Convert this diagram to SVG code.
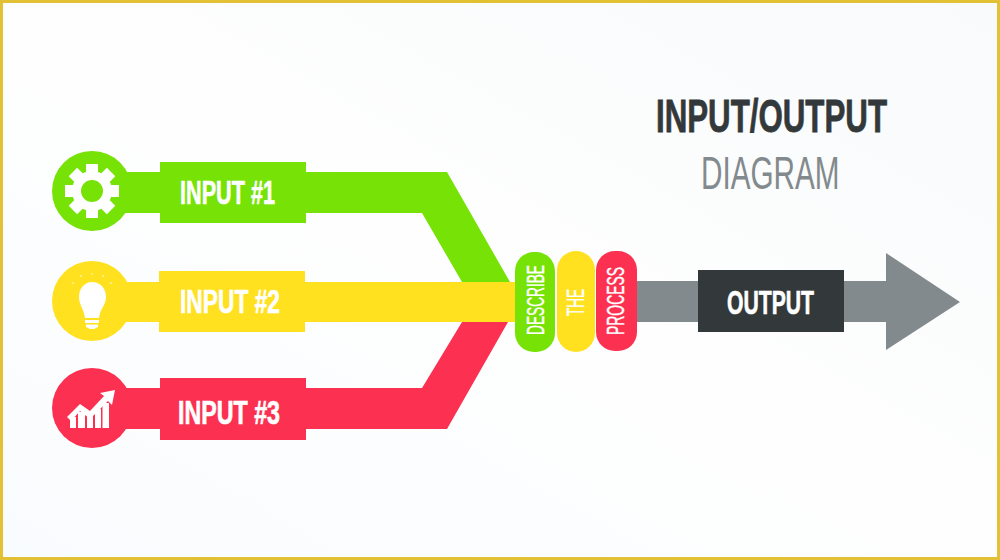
<svg xmlns="http://www.w3.org/2000/svg" width="1000" height="560" viewBox="0 0 1000 560">
<style>
.lbl{font-family:"Liberation Sans",Arial,sans-serif;font-weight:700;fill:#fff;stroke:#fff;stroke-width:.7}
.thin{font-family:"Liberation Sans",Arial,sans-serif;font-weight:400;fill:#fff;stroke:#fff;stroke-width:.4}
.g{fill:#76e205}.y{fill:#ffe11f}.r{fill:#fc3152}.k{fill:#838a8d}.d{fill:#33383a}
</style>
<defs>
<linearGradient id="bg" x1="0" y1="1" x2="1" y2="0"><stop offset="0" stop-color="#f9fcfe"/><stop offset=".5" stop-color="#fefefe"/><stop offset="1" stop-color="#f8fafb"/></linearGradient>
</defs>
<rect x="1.500" y="1.500" width="997" height="557" fill="url(#bg)" stroke="#e2c234" stroke-width="3"/>
<g id="connectors">
<path id="c1" class="g" d="M120 172H447L510 282H462L422 213H120Z"/>
<path id="c3" class="r" d="M120 388H422L462 322H508L447 429H120Z"/>
<rect id="c2" class="y" x="120" y="282" width="400" height="40"/>
<rect id="c4" class="k" x="630" y="281" width="260" height="41"/>
<polygon id="arrowhead" class="k" points="886,253 960,302 886,350"/>
</g>
<g id="input1">
<circle class="g" cx="92" cy="191" r="40"/>
<rect class="g" x="160" y="162" width="146" height="61"/>
<g fill="#fff" transform="translate(92 191)">
<rect x="-6" y="-27" width="12" height="54"/>
<rect x="-6" y="-27" width="12" height="54" transform="rotate(45)"/>
<rect x="-6" y="-27" width="12" height="54" transform="rotate(90)"/>
<rect x="-6" y="-27" width="12" height="54" transform="rotate(135)"/>
<circle r="20"/>
<circle r="11" class="g"/>
</g>
<text class="lbl" x="180" y="204" font-size="34" textLength="95" lengthAdjust="spacingAndGlyphs">INPUT #1</text>
</g>
<g id="input2">
<circle class="y" cx="92" cy="301" r="40"/>
<rect class="y" x="159" y="271" width="146" height="61"/>
<g fill="#fff">
<path d="M92 282C101 282 106 289 106 297C106 305 100 309 99 318H85C84 309 79 305 79 297C79 289 84 282 92 282Z"/>
<path d="M85 320H99V323H85ZM86 324.500H98V327L94 329H90L86 327Z"/>
<g opacity=".55"><circle cx="92" cy="274" r="1"/><circle cx="81" cy="276" r="1"/><circle cx="103" cy="276" r="1"/><circle cx="73" cy="283" r="1"/><circle cx="111" cy="283" r="1"/></g>
</g>
<text class="lbl" x="180" y="313" font-size="34" textLength="100" lengthAdjust="spacingAndGlyphs">INPUT #2</text>
</g>
<g id="input3">
<circle class="r" cx="92" cy="408" r="40"/>
<rect class="r" x="160" y="378" width="146" height="62"/>
<g fill="#fff">
<path d="M70 428V417H76V428ZM78 428V412H85V428ZM87 428V415H93V428ZM95 428V409H101V428ZM102.500 428V403H109V428Z"/>
<path d="M67 417L80 404L90 411L104 396L100 393L115 390L112 405L108 401L90 419L80 411L71 421Z"/>
</g>
<text class="lbl" x="178" y="424" font-size="34" textLength="102" lengthAdjust="spacingAndGlyphs">INPUT #3</text>
</g>
<g id="describe">
<rect class="g" x="515" y="252" width="40" height="100" rx="19"/>
<text class="thin" transform="translate(544 335) rotate(-90)" font-size="24" textLength="70" lengthAdjust="spacingAndGlyphs">DESCRIBE</text>
</g>
<g id="the">
<rect class="y" x="557" y="251" width="38" height="101" rx="19"/>
<text class="thin" transform="translate(584 316) rotate(-90)" font-size="24" textLength="27" lengthAdjust="spacingAndGlyphs">THE</text>
</g>
<g id="process">
<rect class="r" x="596" y="251" width="41" height="100" rx="19"/>
<text class="thin" transform="translate(624 335) rotate(-90)" font-size="24" textLength="68" lengthAdjust="spacingAndGlyphs">PROCESS</text>
</g>
<g id="output">
<rect class="d" x="698" y="270" width="146" height="62"/>
<text class="lbl" x="727" y="314" font-size="34" textLength="87" lengthAdjust="spacingAndGlyphs">OUTPUT</text>
</g>
<g id="title">
<text transform="translate(656 132) scale(.7 1)" font-family="'Liberation Sans',Arial,sans-serif" font-weight="700" font-size="47" fill="#33383a" stroke="#33383a" stroke-width=".8" textLength="330" lengthAdjust="spacingAndGlyphs">INPUT/OUTPUT</text>
<text transform="translate(701 189) scale(.7 1)" font-family="'Liberation Sans',Arial,sans-serif" font-size="47" fill="#838a8d" textLength="198" lengthAdjust="spacingAndGlyphs">DIAGRAM</text>
</g>
</svg>
